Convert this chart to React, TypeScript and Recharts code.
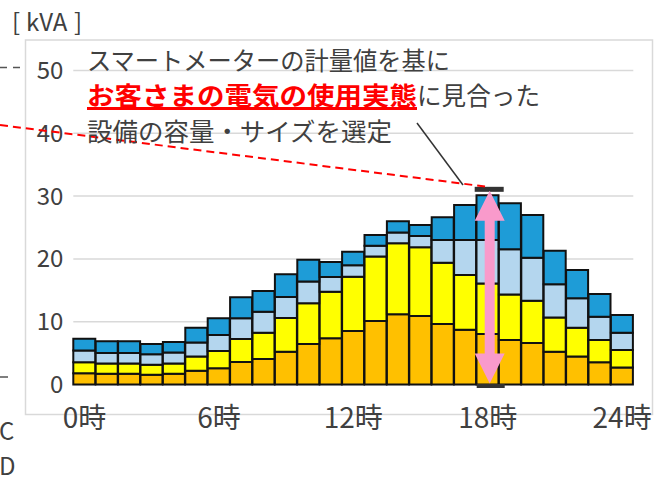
import React from "react";
import { BarChart, Bar, XAxis, YAxis, CartesianGrid, ReferenceLine } from "recharts";

// hourly demand split into four stacked layers (kVA)
const hours = [0, 1, 2, 3, 4, 5, 6, 7, 8, 9, 10, 11, 12, 13, 14, 15, 16, 17, 18, 19, 20, 21, 22, 23, 24];
const layerA = [1.8, 1.7, 1.7, 1.55, 1.7, 2.2, 2.6, 3.6, 4.05, 5.2, 6.45, 7.35, 8.5, 10.1, 11.2, 10.9, 9.65, 8.7, 8.05, 7.1, 6.6, 5.2, 4.45, 3.55, 2.7];
const layerB = [1.75, 1.65, 1.65, 1.6, 1.65, 2.25, 2.75, 3.65, 4.2, 5.4, 6.5, 7.4, 8.65, 10.3, 11.3, 10.95, 9.75, 8.75, 8.05, 7.25, 6.75, 5.45, 4.6, 3.55, 2.8];
const layerC = [1.85, 1.65, 1.65, 1.65, 1.75, 2.25, 2.55, 3.3, 3.35, 3.35, 3.45, 2.35, 1.85, 1.7, 1.7, 1.8, 3.6, 5.55, 6.9, 7.2, 6.85, 5.3, 4.7, 3.7, 2.75];
const layerD = [1.87, 1.9, 1.9, 1.65, 1.65, 2.35, 2.65, 3.35, 3.3, 3.6, 3.45, 2.4, 2.15, 1.7, 1.8, 1.75, 3.65, 5.6, 7.15, 7.3, 6.8, 5.35, 4.5, 3.6, 2.8];

const yTicks = [0, 10, 20, 30, 40, 50];
const peakHour = 18;
const peakCap = 31;

const data = hours.map((h, i) => ({
  hour: h,
  a: layerA[i],
  b: layerB[i],
  c: layerC[i],
  d: layerD[i],
}));

const FONT = "'Noto Sans CJK JP', 'Noto Sans', sans-serif";
const TEXT = "#404040";

function PeakArrow(props: any) {
  const { x1, y1, y2 } = props;
  const cx = x1 + 2;
  const bottom = Math.max(y1, y2);
  const top = Math.min(y1, y2);
  const pts = [
    [cx, top + 1],
    [cx + 15, top + 31],
    [cx + 5, top + 31],
    [cx + 5, bottom - 31],
    [cx + 15, bottom - 31],
    [cx, bottom - 1],
    [cx - 15, bottom - 31],
    [cx - 5, bottom - 31],
    [cx - 5, top + 31],
    [cx - 15, top + 31],
  ]
    .map((p) => p.join(","))
    .join(" ");
  return (
    <g>
      <rect x={cx - 15} y={top - 3} width={29} height={5} fill="#333" />
      <rect x={cx - 13} y={bottom - 0.5} width={28} height={4} fill="#333" />
      <polygon points={pts} fill="#F99ACB" />
    </g>
  );
}

export default function App() {
  return (
    <div style={{ position: "absolute", left: 0, top: 0, width: 655, height: 484, fontFamily: FONT }}>
      <svg width={655} height={484} style={{ position: "absolute", left: 0, top: 0 }}>
        <rect x={25.5} y={40} width={627} height={374.5} fill="none" stroke="#D9D9D9" strokeWidth={1.5} />
      </svg>
      <div style={{ position: "absolute", left: 0, top: 0 }}>
        <BarChart
          width={655}
          height={484}
          data={data}
          margin={{ top: 70.5, right: 21.7, left: 28.3, bottom: 0 }}
          barCategoryGap={0}
          barGap={0}
        >
          <CartesianGrid vertical={false} stroke="#D9D9D9" strokeWidth={1.5} />
          <XAxis
            dataKey="hour"
            interval={5}
            tickFormatter={(h) => `${h}時`}
            axisLine={false}
            tickLine={false}
            tickSize={0}
            tickMargin={23.5}
            height={99.5}
            tick={{ fill: TEXT, fontSize: 28, fontFamily: FONT }}
          />
          <YAxis
            domain={[0, 50]}
            ticks={yTicks}
            axisLine={false}
            tickLine={false}
            tickSize={0}
            tickMargin={10}
            width={45}
            tick={{ fill: TEXT, fontSize: 24, fontFamily: FONT }}
          />
          <Bar dataKey="a" stackId="s" fill="#FFC000" stroke="#111" strokeWidth={2} isAnimationActive={false} />
          <Bar dataKey="b" stackId="s" fill="#FFFF00" stroke="#111" strokeWidth={2} isAnimationActive={false} />
          <Bar dataKey="c" stackId="s" fill="#B4D6EE" stroke="#111" strokeWidth={2} isAnimationActive={false} />
          <Bar dataKey="d" stackId="s" fill="#1E9CD7" stroke="#111" strokeWidth={2} isAnimationActive={false} />
          <ReferenceLine
            segment={[
              { x: peakHour, y: 0 },
              { x: peakHour, y: peakCap },
            ]}
            ifOverflow="visible"
            shape={PeakArrow}
          />
        </BarChart>
      </div>
      <svg width={655} height={484} style={{ position: "absolute", left: 0, top: 0, pointerEvents: "none" }}>
        <text x={12} y={31} fontSize={24} fill={TEXT} fontFamily={FONT}>[</text>
        <text x={26} y={31} fontSize={24} fill={TEXT} fontFamily={FONT}>kVA</text>
        <text x={74} y={31} fontSize={24} fill={TEXT} fontFamily={FONT}>]</text>
        {/* bits of the neighbouring figure */}
        <line x1={0} y1={67.5} x2={21} y2={67.5} stroke="#555" strokeWidth={1.5} strokeDasharray="7 6" />
        <line x1={0} y1={377} x2={8} y2={377} stroke="#555" strokeWidth={1.5} />
        <text x={-1} y={440} fontSize={24} fill={TEXT} fontFamily={FONT}>C</text>
        <text x={-1} y={475} fontSize={24} fill={TEXT} fontFamily={FONT}>D</text>

        <line x1={0} y1={125} x2={485} y2={186.5} stroke="#FF0000" strokeWidth={2} strokeDasharray="8 5" />
        <line x1={417} y1={123} x2={463} y2={185} stroke="#333" strokeWidth={1.5} />

        <text x={87} y={70} fontSize={25} fill={TEXT} fontFamily={FONT} textLength={363} lengthAdjust="spacingAndGlyphs">
          スマートメーターの計量値を基に
        </text>
        <text x={87} y={105} fontSize={25} fontWeight="bold" fill="#FF0000" fontFamily={FONT} textLength={330} lengthAdjust="spacingAndGlyphs">
          お客さまの電気の使用実態
        </text>
        <rect x={87} y={107} width={330} height={3} fill="#FF0000" />
        <text x={417} y={105} fontSize={25} fill={TEXT} fontFamily={FONT} textLength={123} lengthAdjust="spacingAndGlyphs">
          に見合った
        </text>
        <text x={87} y={141} fontSize={25} fill={TEXT} fontFamily={FONT} textLength={305} lengthAdjust="spacingAndGlyphs">
          設備の容量・サイズを選定
        </text>
      </svg>
    </div>
  );
}
